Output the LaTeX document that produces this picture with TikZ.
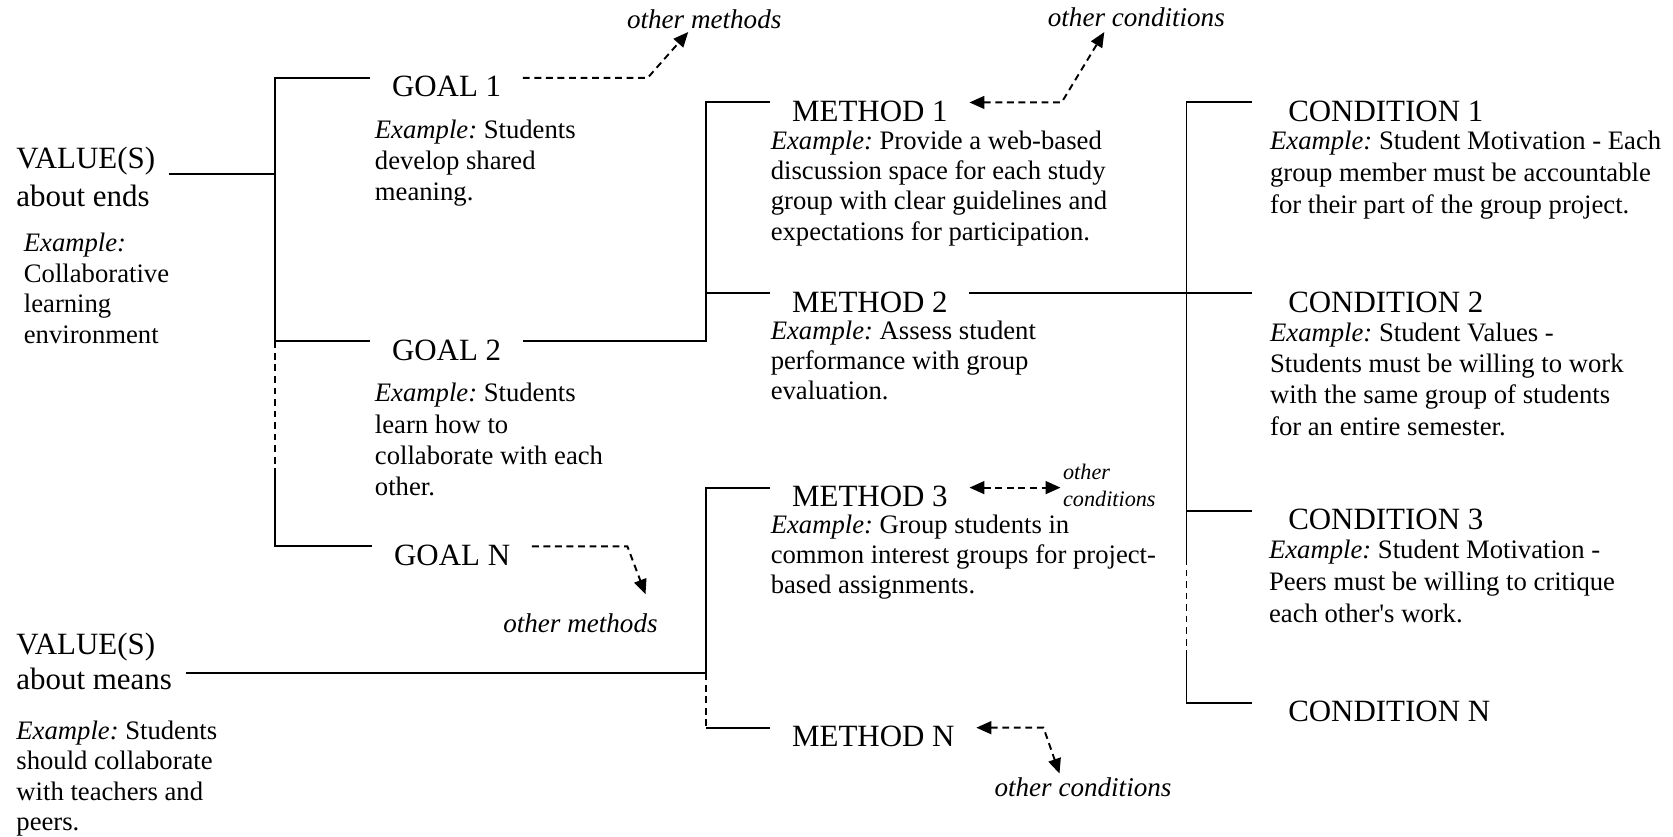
\documentclass[tikz,border=0pt]{standalone}
\usepackage{fontspec}
\setmainfont{Liberation Serif}
\usetikzlibrary{arrows.meta}
\frenchspacing

\tikzset{
  bar/.style={line width=0.9pt},
  dashbar/.style={line width=0.9pt, dash pattern=on 3.2pt off 2.2pt},
  head/.style={anchor=west, inner xsep=10pt, inner ysep=0pt, text height=17.6pt, text depth=0pt, font=\fontsize{14.5}{17}\selectfont},
  valhead/.style={anchor=north west, align=left, inner xsep=6.5pt, inner ysep=0pt, font=\fontsize{14.5}{#1}\selectfont},
  exbox/.style={anchor=north west, align=left, inner sep=0pt, font=\fontsize{12.5}{#1}\selectfont},
  exbox/.default=14.6pt,
  other/.style={font=\fontsize{12.7}{14}\selectfont\itshape, inner sep=1pt}
}

\begin{document}
\begin{tikzpicture}[x=0.5pt, y=-0.5pt, >={Triangle[length=7pt,width=6pt]}]
 \useasboundingbox (0,0) rectangle (1568,784);

 %Coordinates
 \coordinate (endsJcoordinate) at (258,163);
 \coordinate (endsDashcoordinate) at (258,440);
 \coordinate (goalsJcoordinate) at (662,320);
 \coordinate (meansJcoordinate) at (662,631);
 \coordinate (condJcoordinate) at (1112,275);
 \coordinate (condDashAcoordinate) at (1112,523);
 \coordinate (condDashBcoordinate) at (1112,609);
 \coordinate (goal1bend) at (607,73);
 \coordinate (goal1tip) at (645,30);
 \coordinate (goalNbend) at (588,512);
 \coordinate (goalNtip) at (605,557);
 \coordinate (method1bend) at (995,96);
 \coordinate (method1tip) at (1035,30);
 \coordinate (methodNbend) at (978,682);
 \coordinate (methodNtip) at (993,725);

 %Values
 \node (valEnds) [valhead=18] at (2,137) {VALUE(S)\\about ends};
 \node (valEndsEx) [exbox=14.3pt] at (22,218) {\textit{Example:}\\Collaborative\\learning\\environment};
 \node (valMeans) [valhead=16.5] at (2,593) {VALUE(S)\\about means};
 \node (valMeansEx) [exbox=14.3pt] at (15,675) {\textit{Example:} Students\\should collaborate\\with teachers and\\peers.};

 %Goals
 \node (goal1) [head] at (347,73) {GOAL 1};
 \node (goal1Ex) [exbox] at (351,112) {\textit{Example:} Students\\develop shared\\meaning.};
 \node (goal2) [head] at (347,320) {GOAL 2};
 \node (goal2Ex) [exbox] at (351,359) {\textit{Example:} Students\\learn how to\\collaborate with each\\other.};
 \node (goalN) [head] at (349,512) {GOAL N};

 %Methods
 \node (method1) [head] at (722,96) {METHOD 1};
 \node (method1Ex) [exbox=14.2pt] at (722,122) {\textit{Example:} Provide a web-based\\discussion space for each study\\group with clear guidelines and\\expectations for participation.};
 \node (method2) [head] at (722,275) {METHOD 2};
 \node (method2Ex) [exbox=14.2pt] at (722,300) {\textit{Example:} Assess student\\performance with group\\evaluation.};
 \node (method3) [head] at (722,457) {METHOD 3};
 \node (method3Ex) [exbox=14.2pt] at (722,482) {\textit{Example:} Group students in\\common interest groups for project-\\based assignments.};
 \node (methodN) [head] at (722,682) {METHOD N};

 %Conditions
 \node (cond1) [head, inner xsep=17pt] at (1173,96) {CONDITION 1};
 \node (cond1Ex) [exbox=15.2pt] at (1190,122) {\textit{Example:} Student Motivation - Each\\group member must be accountable\\for their part of the group project.};
 \node (cond2) [head, inner xsep=17pt] at (1173,275) {CONDITION 2};
 \node (cond2Ex) [exbox=14.7pt] at (1190,302) {\textit{Example:} Student Values -\\Students must be willing to work\\with the same group of students\\for an entire semester.};
 \node (cond3) [head, inner xsep=17pt] at (1173,479) {CONDITION 3};
 \node (cond3Ex) [exbox=15pt] at (1189,506) {\textit{Example:} Student Motivation -\\Peers must be willing to critique\\each other\textquotesingle s work.};
 \node (condN) [head, inner xsep=17pt] at (1173,659) {CONDITION N};

 %Others
 \node (othMeth1) [other] at (660,18) {other methods};
 \node (othCond1) [other] at (1065,16) {other conditions};
 \node (othMethN) [other] at (544,584) {other methods};
 \node (othCondN) [other] at (1015,738) {other conditions};
 \node (othCond3) [other, font=\fontsize{10.4}{12.5}\selectfont\itshape, align=left, anchor=west] at (994,455) {other\\conditions};

 %Brackets
 \draw[bar] (valEnds.east |- endsJcoordinate) -- (endsJcoordinate);
 \draw[bar] (goal1.west) -- (endsJcoordinate |- goal1.west) -- (endsJcoordinate |- goal2.west) -- (goal2.west);
 \draw[dashbar] (endsJcoordinate |- goal2.west) -- (endsDashcoordinate);
 \draw[bar] (endsDashcoordinate) -- (endsJcoordinate |- goalN.west) -- (goalN.west);

 \draw[bar] (goal2.east) -- (goalsJcoordinate) -- (goalsJcoordinate |- method1.west) -- (method1.west);
 \draw[bar] (goalsJcoordinate |- method2.west) -- (method2.west);

 \draw[bar] (valMeans.east |- meansJcoordinate) -- (meansJcoordinate) -- (meansJcoordinate |- method3.west) -- (method3.west);
 \draw[dashbar] (meansJcoordinate) -- (meansJcoordinate |- methodN.west);
 \draw[bar] (meansJcoordinate |- methodN.west) -- (methodN.west);

 \draw[bar] (method2.east) -- (cond2.west);
 \draw[bar] (cond1.west) -- (condJcoordinate |- cond1.west) -- (condDashAcoordinate);
 \draw[bar] (condJcoordinate |- cond3.west) -- (cond3.west);
 \draw[dashbar] (condDashAcoordinate) -- (condDashBcoordinate);
 \draw[bar] (condDashBcoordinate) -- (condJcoordinate |- condN.west) -- (condN.west);

 %Other links
 \draw[dashbar, ->] (goal1.east) -- (goal1bend) -- (goal1tip);
 \draw[dashbar, ->] (goalN.east) -- (goalNbend) -- (goalNtip);
 \draw[dashbar, <->] (method1.east) -- (method1bend) -- (method1tip);
 \draw[dashbar, <->] (method3.east) -- (method3.east -| othCond3.west);
 \draw[dashbar, <->] (methodN.east) -- (methodNbend) -- (methodNtip);

\end{tikzpicture}
\end{document}
